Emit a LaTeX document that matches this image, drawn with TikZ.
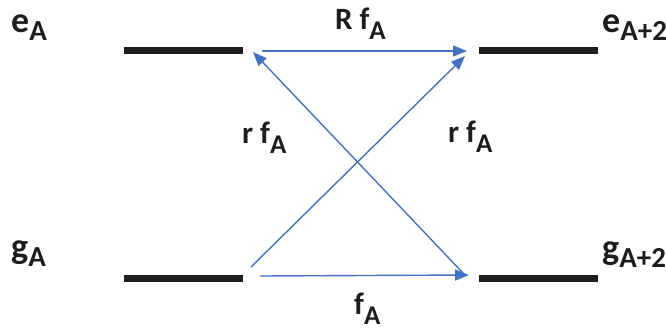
\documentclass[tikz,border=0pt]{standalone}
\usepackage{fontspec}
\setmainfont{Carlito}
\usetikzlibrary{arrows.meta}
\definecolor{arrblue}{RGB}{68,114,196}
\definecolor{barblack}{RGB}{30,28,28}
\newcommand{\Lsub}[1]{\raisebox{-8pt}{\fontsize{29}{29}\selectfont #1}}
\newcommand{\Bsub}[1]{\raisebox{-10pt}{\fontsize{27}{27}\selectfont #1}}
\tikzset{
  levbar/.style={line width=6.5pt, draw=barblack},
  trans/.style={draw=arrblue, line width=1.4pt, -{Triangle[length=14pt,width=11pt]}},
  levlabel/.style={anchor=base west, inner sep=0pt, text=barblack, font=\fontsize{36}{36}\selectfont\bfseries},
  arrlabel/.style={anchor=base west, inner sep=0pt, text=barblack, font=\fontsize{31}{31}\selectfont\bfseries}
}
\begin{document}
\begin{tikzpicture}[x=1pt,y=-1pt]
\useasboundingbox (0,0) rectangle (666,330);
% levels
\coordinate (eAl) at (124,50.5);  \coordinate (eAr) at (243,50.5);
\coordinate (gAl) at (124,278.5); \coordinate (gAr) at (243,278.5);
\coordinate (eBl) at (479,50.5);  \coordinate (eBr) at (598,50.5);
\coordinate (gBl) at (479,278.5); \coordinate (gBr) at (598,278.5);
\draw[levbar] (eAl) -- (eAr);
\draw[levbar] (gAl) -- (gAr);
\draw[levbar] (eBl) -- (eBr);
\draw[levbar] (gBl) -- (gBr);
% arrow end points
\coordinate (t1s) at (262,51);  \coordinate (t1e) at (467,51);
\coordinate (t2s) at (251,267); \coordinate (t2e) at (465,56);
\coordinate (t3s) at (463,273); \coordinate (t3e) at (253,52);
\coordinate (t4s) at (260,276); \coordinate (t4e) at (469,275);
\draw[trans] (t1s) -- (t1e);
\draw[trans] (t2s) -- (t2e);
\draw[trans] (t3s) -- (t3e);
\draw[trans] (t4s) -- (t4e);
% labels
\node[levlabel] (leA) at (11,32) {e\Lsub{A}};
\node[levlabel] (leB) at (602,32) {e\Lsub{A+2}};
\node[levlabel] (lgA) at (11,258) {g\Lsub{A}};
\node[levlabel] (lgB) at (602,259) {g\Lsub{A+2}};
\node[arrlabel] (lR) at (335,29) {R f\Bsub{A}};
\node[arrlabel] (lr1) at (242,143) {r f\Bsub{A}};
\node[arrlabel] (lr2) at (448,142) {r f\Bsub{A}};
\node[arrlabel] (lf) at (354,314) {f\Bsub{A}};
\end{tikzpicture}
\end{document}
